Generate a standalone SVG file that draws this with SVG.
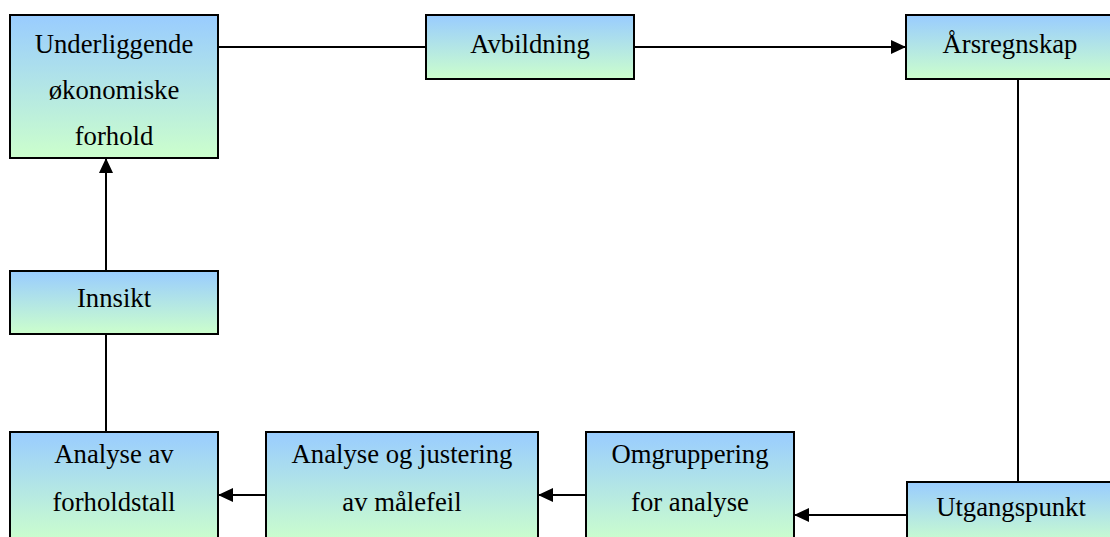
<svg xmlns="http://www.w3.org/2000/svg" width="1110" height="537" viewBox="0 0 1110 537">
  <defs>
    <linearGradient id="fill" x1="0" y1="0" x2="0" y2="1">
      <stop offset="0" stop-color="#99CCFF"/>
      <stop offset="1" stop-color="#CCFFCC"/>
    </linearGradient>
    <marker id="arrow" viewBox="0 0 15 14" refX="15" refY="7" markerWidth="15" markerHeight="14" markerUnits="userSpaceOnUse" orient="auto">
      <path d="M0,0 L15,7 L0,14 Z" fill="#000"/>
    </marker>
  </defs>
  <style>
    .box { fill: url(#fill); stroke: #000; stroke-width: 2; }
    .lbl { font-family: "Liberation Serif", "Times New Roman", serif; font-size: 26.7px; fill: #000; text-anchor: middle; }
    .conn { stroke: #000; stroke-width: 2; fill: none; }
  </style>

  <rect width="1110" height="537" fill="#fff"/>

  <g id="connectors">
    <line class="conn" x1="218" y1="47" x2="426" y2="47"/>
    <line class="conn" x1="634" y1="47" x2="906" y2="47" marker-end="url(#arrow)"/>
    <line class="conn" x1="1018" y1="79" x2="1018" y2="482"/>
    <line class="conn" x1="907" y1="515" x2="794" y2="515" marker-end="url(#arrow)"/>
    <line class="conn" x1="586" y1="495" x2="538" y2="495" marker-end="url(#arrow)"/>
    <line class="conn" x1="266" y1="495" x2="218" y2="495" marker-end="url(#arrow)"/>
    <line class="conn" x1="106" y1="432" x2="106" y2="334"/>
    <line class="conn" x1="106" y1="271" x2="106" y2="158" marker-end="url(#arrow)"/>
  </g>

  <g id="underliggende">
    <rect class="box" x="10" y="15" width="208" height="143"/>
    <text class="lbl" x="114" y="53">Underliggende</text>
    <text class="lbl" x="114" y="99">økonomiske</text>
    <text class="lbl" x="114" y="145">forhold</text>
  </g>

  <g id="avbildning">
    <rect class="box" x="426" y="15" width="208" height="64"/>
    <text class="lbl" x="530" y="53">Avbildning</text>
  </g>

  <g id="arsregnskap">
    <rect class="box" x="906" y="15" width="208" height="64"/>
    <text class="lbl" x="1010" y="53">Årsregnskap</text>
  </g>

  <g id="innsikt">
    <rect class="box" x="10" y="271" width="208" height="63"/>
    <text class="lbl" x="114" y="307">Innsikt</text>
  </g>

  <g id="forholdstall">
    <rect class="box" x="10" y="432" width="208" height="110"/>
    <text class="lbl" x="114" y="463">Analyse av</text>
    <text class="lbl" x="114" y="511">forholdstall</text>
  </g>

  <g id="malefeil">
    <rect class="box" x="266" y="432" width="272" height="110"/>
    <text class="lbl" x="402" y="463">Analyse og justering</text>
    <text class="lbl" x="402" y="511">av målefeil</text>
  </g>

  <g id="omgruppering">
    <rect class="box" x="586" y="432" width="208" height="110"/>
    <text class="lbl" x="690" y="463">Omgruppering</text>
    <text class="lbl" x="690" y="511">for analyse</text>
  </g>

  <g id="utgangspunkt">
    <rect class="box" x="907" y="482" width="208" height="64"/>
    <text class="lbl" x="1011" y="516">Utgangspunkt</text>
  </g>
</svg>
